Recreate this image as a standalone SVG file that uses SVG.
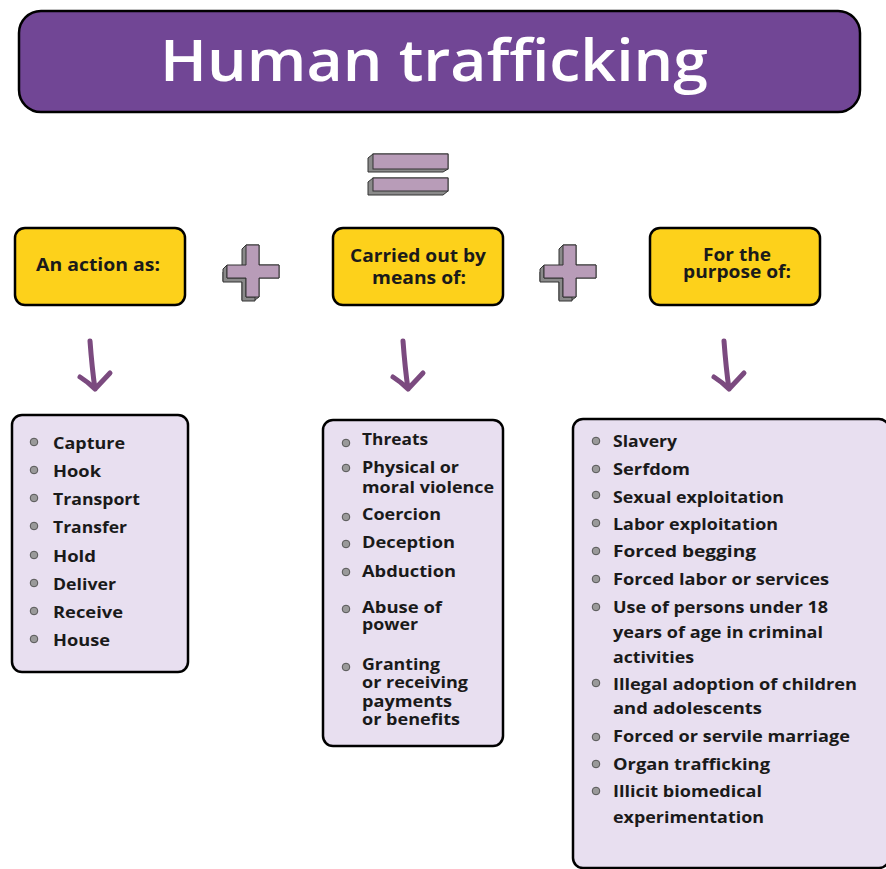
<svg xmlns="http://www.w3.org/2000/svg" width="886" height="869" viewBox="0 0 886 869">
<style>
.box{stroke:#000;stroke-width:2.5}
.title{fill:#714695}
.yel{fill:#FDD11B}
.lav{fill:#E8DFF0}
.ttl{font-family:"Open Sans","Liberation Sans",sans-serif;font-weight:600;font-size:57px;fill:#fff}
.hd{font-family:"Open Sans","Liberation Sans",sans-serif;font-weight:700;font-size:18px;fill:#1a1a1a;text-anchor:middle}
.it{font-family:"Open Sans","Liberation Sans",sans-serif;font-weight:700;font-size:16.5px;fill:#1a1a1a}
.bul{fill:#9a9a9a;stroke:#555;stroke-width:1}
.ext{fill:#8a8a8a;stroke:#333;stroke-width:1}
.front{fill:#B89CB8;stroke:#333;stroke-width:1}
.arr{fill:none;stroke:#7B4A7F;stroke-width:5;stroke-linecap:round;stroke-linejoin:round}
</style>
<defs>
<g id="plus">
<path class="ext" d="M246,245 L242,249 V268 H227 L223,272 V281 H242 V300 H255 L259,297 V278 H279 V265 H259 V245 Z"/>
<path class="ext" d="M227,265 L223,269 V282 H242 V301 H255 V297 H246 V278 H227 Z"/>
<path class="front" d="M246,245 V265 H227 V278 H246 V297 H259 V278 H279 V265 H259 V245 Z"/>
</g>
</defs>

<g id="title">
<rect class="box title" x="19" y="11" width="841" height="101" rx="22"/>
<text class="ttl" x="160" y="81" textLength="548" lengthAdjust="spacingAndGlyphs">Human trafficking</text>
</g>

<g id="equals">
<path class="ext" d="M373,154 L368,158 V172 H443 L448,169 V154 Z"/>
<rect class="front" x="373" y="154" width="75" height="15"/>
<path class="ext" d="M373,178 L368,182 V195 H443 L448,191 V178 Z"/>
<rect class="front" x="373" y="178" width="75" height="13"/>
</g>

<g id="plus1"><use href="#plus"/></g>
<g id="plus2"><use href="#plus" transform="translate(317,0)"/></g>

<g id="action">
<rect class="box yel" x="15" y="228" width="170" height="77" rx="10"/>
<text class="hd" x="98" y="271" textLength="124" lengthAdjust="spacingAndGlyphs">An action as:</text>
</g>

<g id="means">
<rect class="box yel" x="333" y="228" width="170" height="77" rx="10"/>
<text class="hd" x="418" y="262" textLength="136" lengthAdjust="spacingAndGlyphs">Carried out by</text>
<text class="hd" x="419" y="284" textLength="94" lengthAdjust="spacingAndGlyphs">means of:</text>
</g>

<g id="purpose">
<rect class="box yel" x="650" y="228" width="170" height="77" rx="10"/>
<text class="hd" x="737" y="261" textLength="68" lengthAdjust="spacingAndGlyphs">For the</text>
<text class="hd" x="737" y="278" textLength="108" lengthAdjust="spacingAndGlyphs">purpose of:</text>
</g>

<g id="connectors">
<path class="arr" d="M90,341 Q92,368 95,389 M80,377 Q88,382 95,389 L110,373"/>
<path class="arr" d="M403,341 Q405,368 408,389 M393,377 Q401,382 408,389 L423,373"/>
<path class="arr" d="M724,341 Q726,368 729,389 M714,377 Q722,382 729,389 L744,373"/>
</g>

<g id="actions-list">
<rect class="box lav" x="12" y="415" width="176" height="257" rx="10"/>
<circle class="bul" cx="34" cy="442" r="3.8"/><text class="it" x="53" y="449" textLength="72" lengthAdjust="spacingAndGlyphs">Capture</text>
<circle class="bul" cx="34" cy="470" r="3.8"/><text class="it" x="53" y="477" textLength="48" lengthAdjust="spacingAndGlyphs">Hook</text>
<circle class="bul" cx="34" cy="498" r="3.8"/><text class="it" x="53" y="505" textLength="87" lengthAdjust="spacingAndGlyphs">Transport</text>
<circle class="bul" cx="34" cy="526" r="3.8"/><text class="it" x="53" y="533" textLength="74" lengthAdjust="spacingAndGlyphs">Transfer</text>
<circle class="bul" cx="34" cy="555" r="3.8"/><text class="it" x="53" y="562" textLength="43" lengthAdjust="spacingAndGlyphs">Hold</text>
<circle class="bul" cx="34" cy="583" r="3.8"/><text class="it" x="53" y="590" textLength="63" lengthAdjust="spacingAndGlyphs">Deliver</text>
<circle class="bul" cx="34" cy="611" r="3.8"/><text class="it" x="53" y="618" textLength="70" lengthAdjust="spacingAndGlyphs">Receive</text>
<circle class="bul" cx="34" cy="639" r="3.8"/><text class="it" x="53" y="646" textLength="57" lengthAdjust="spacingAndGlyphs">House</text>
</g>

<g id="means-list">
<rect class="box lav" x="323" y="420" width="180" height="326" rx="10"/>
<circle class="bul" cx="346" cy="443" r="3.8"/><text class="it" x="362" y="445" textLength="66" lengthAdjust="spacingAndGlyphs">Threats</text>
<circle class="bul" cx="346" cy="468" r="3.8"/><text class="it" x="362" y="473" textLength="97" lengthAdjust="spacingAndGlyphs">Physical or</text>
<text class="it" x="362" y="493" textLength="132" lengthAdjust="spacingAndGlyphs">moral violence</text>
<circle class="bul" cx="346" cy="517" r="3.8"/><text class="it" x="362" y="520" textLength="79" lengthAdjust="spacingAndGlyphs">Coercion</text>
<circle class="bul" cx="346" cy="544" r="3.8"/><text class="it" x="362" y="548" textLength="93" lengthAdjust="spacingAndGlyphs">Deception</text>
<circle class="bul" cx="346" cy="572" r="3.8"/><text class="it" x="362" y="577" textLength="94" lengthAdjust="spacingAndGlyphs">Abduction</text>
<circle class="bul" cx="346" cy="609" r="3.8"/><text class="it" x="362" y="613" textLength="80" lengthAdjust="spacingAndGlyphs">Abuse of</text>
<text class="it" x="362" y="630" textLength="56" lengthAdjust="spacingAndGlyphs">power</text>
<circle class="bul" cx="346" cy="667" r="3.8"/><text class="it" x="362" y="670" textLength="78" lengthAdjust="spacingAndGlyphs">Granting</text>
<text class="it" x="362" y="688" textLength="106" lengthAdjust="spacingAndGlyphs">or receiving</text>
<text class="it" x="362" y="707" textLength="90" lengthAdjust="spacingAndGlyphs">payments</text>
<text class="it" x="362" y="725" textLength="98" lengthAdjust="spacingAndGlyphs">or benefits</text>
</g>

<g id="purpose-list">
<rect class="box lav" x="573" y="419" width="316" height="449" rx="10"/>
<circle class="bul" cx="596" cy="441" r="3.8"/><text class="it" x="613" y="447" textLength="64" lengthAdjust="spacingAndGlyphs">Slavery</text>
<circle class="bul" cx="596" cy="469" r="3.8"/><text class="it" x="613" y="475" textLength="77" lengthAdjust="spacingAndGlyphs">Serfdom</text>
<circle class="bul" cx="596" cy="495" r="3.8"/><text class="it" x="613" y="503" textLength="171" lengthAdjust="spacingAndGlyphs">Sexual exploitation</text>
<circle class="bul" cx="596" cy="523" r="3.8"/><text class="it" x="613" y="530" textLength="165" lengthAdjust="spacingAndGlyphs">Labor exploitation</text>
<circle class="bul" cx="596" cy="551" r="3.8"/><text class="it" x="613" y="557" textLength="143" lengthAdjust="spacingAndGlyphs">Forced begging</text>
<circle class="bul" cx="596" cy="579" r="3.8"/><text class="it" x="613" y="585" textLength="216" lengthAdjust="spacingAndGlyphs">Forced labor or services</text>
<circle class="bul" cx="596" cy="607" r="3.8"/><text class="it" x="613" y="613" textLength="215" lengthAdjust="spacingAndGlyphs">Use of persons under 18</text>
<text class="it" x="613" y="638" textLength="210" lengthAdjust="spacingAndGlyphs">years of age in criminal</text>
<text class="it" x="613" y="663" textLength="81" lengthAdjust="spacingAndGlyphs">activities</text>
<circle class="bul" cx="596" cy="683" r="3.8"/><text class="it" x="613" y="690" textLength="244" lengthAdjust="spacingAndGlyphs">Illegal adoption of children</text>
<text class="it" x="613" y="714" textLength="149" lengthAdjust="spacingAndGlyphs">and adolescents</text>
<circle class="bul" cx="596" cy="737" r="3.8"/><text class="it" x="613" y="742" textLength="237" lengthAdjust="spacingAndGlyphs">Forced or servile marriage</text>
<circle class="bul" cx="596" cy="764" r="3.8"/><text class="it" x="613" y="770" textLength="157" lengthAdjust="spacingAndGlyphs">Organ trafficking</text>
<circle class="bul" cx="596" cy="791" r="3.8"/><text class="it" x="613" y="797" textLength="149" lengthAdjust="spacingAndGlyphs">Illicit biomedical</text>
<text class="it" x="613" y="823" textLength="151" lengthAdjust="spacingAndGlyphs">experimentation</text>
</g>
</svg>
